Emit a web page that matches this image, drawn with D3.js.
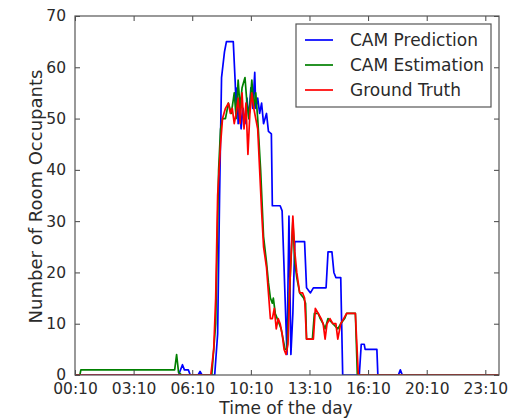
<!DOCTYPE html>
<html>
<head>
<meta charset="utf-8">
<script src="https://cdn.jsdelivr.net/npm/d3@7"></script>
<style>
  html, body { margin: 0; padding: 0; background: #fff; }
  svg { display: block; font-family: "DejaVu Sans", sans-serif; }
</style>
</head>
<body>
<svg id="chart" width="531" height="418"></svg>
<script>
// Occupancy samples: [sample index, occupants]
const camPrediction = [
  [0,0],[103,0],[106,0],[110,2],[112,1],[116,1],[118,0],[126,0],[128,0.7],[130,0],
  [143,0],[146,8],[148,35],[150,58],[153,63],[155,65],[162,65],[164,57],[165,52],
  [166,56],[167,49],[169,53],[170,48],[172,52],[174,49],[176,54],[178,50],[180,56],
  [182,52],[184,59],[185,52],[187,54],[189,51],[191,53],[193,49],[196,51],[198,47.5],
  [201,47],[202,33],[210,33],[212,32],[217,4],[219,31],[221,4],[223,12],[225,26],
  [235,26],[237,17],[241,16],[244,17],[257,17],[259,24],[263,24],[265,20],[267,19],
  [272,19],[274,0],[291,0],[293,6],[296,6],[297,5],[309,5],[310,0],[331,0],[333,1],
  [335,0],[434,0]
];
const camEstimation = [
  [0,0],[5,0],[6,1],[102,1],[104,4],[106,0.5],[109,0],[140,0],[144,10],[147,40],
  [149,48],[151,50],[154,50],[157,53],[160,51],[163,55],[165,50],[167,57.5],[169,52],
  [171,56],[174,58],[176,53],[178,50],[181,57.5],[183,52],[185,55],[187,50],[190,40],
  [193,27],[196,22],[198,18],[200,15],[202,14],[203,15],[205,12],[207,11],[209,10],
  [211,9],[213,7],[215,5],[217,5],[219,14],[221,22],[223,30],[225,22],[227,19],
  [230,16],[234,15],[236,14],[237,7],[243,7],[245,12],[249,12],[251,11],[254,10],
  [256,9],[259,11],[264,10],[269,9],[272,10],[276,11],[278,12],[287,12],[289,0],[434,0]
];
const groundTruth = [
  [0,0],[139,0],[142,5],[144,15],[146,35],[149,45],[151,50],[154,52],[157,53],[159,51],
  [161,52],[163,49],[165,51],[167,54],[169,49],[171,55],[173,48],[175,53],[177,43],
  [179,51],[181,55],[183,52],[185,50],[187,48],[189,40],[191,32],[193,25],[196,21],
  [198,16],[200,11],[202,11],[204,13],[206,9],[208,11],[210,10],[212,8],[214,5],
  [216,4],[218,6],[220,18],[223,31],[225,24],[227,20],[230,16],[233,16],[235,15],
  [237,7],[244,7],[246,13],[249,12],[252,11],[254,10],[256,7],[258,10],[261,11],
  [264,10],[267,10],[269,7],[272,10],[275,11],[278,12],[287,12],[290,0],[434,0]
];

const seriesNames = ["CAM Prediction", "CAM Estimation", "Ground Truth"];
const seriesColors = ["#0000ff", "#008000", "#ff0000"];
const seriesData = [camPrediction, camEstimation, groundTruth];

const xTickValues = [0, 60, 120, 180, 240, 300, 360, 420];
const xTickLabels = ["00:10", "03:10", "06:10", "10:10", "13:10", "16:10", "20:10", "23:10"];
const yTickValues = [0, 10, 20, 30, 40, 50, 60, 70];

const margin = { left: 75, top: 16, right: 32, bottom: 43 };
const W = 531, H = 418;
const iw = W - margin.left - margin.right;
const ih = H - margin.top - margin.bottom;

const svg = d3.select("#chart");
const g = svg.append("g").attr("transform", `translate(${margin.left},${margin.top})`);

const x = d3.scaleLinear().domain([0, 434]).range([0, iw]);
const y = d3.scaleLinear().domain([0, 70]).range([ih, 0]);

svg.append("defs").append("clipPath").attr("id", "plotclip")
  .append("rect").attr("x", 0).attr("y", -2).attr("width", iw).attr("height", ih + 2);

// Lines
const line = d3.line().x(d => x(d[0])).y(d => y(d[1]));
const lines = g.append("g").attr("clip-path", "url(#plotclip)");
seriesData.forEach((s, i) => {
  lines.append("path")
    .datum(s)
    .attr("fill", "none")
    .attr("stroke", seriesColors[i])
    .attr("stroke-width", 1.7)
    .attr("stroke-linejoin", "round")
    .attr("d", line);
});

// Axes with inward ticks on all four sides
const tickColor = "#444";
const labelColor = "#2a2a2a";
const tickFont = "15.5px";
const titleFont = "17px";
const xBottom = d3.axisBottom(x).tickValues(xTickValues).tickFormat((d, i) => xTickLabels[i])
  .tickSizeInner(-5).tickSizeOuter(0).tickPadding(8);
const xTop = d3.axisTop(x).tickValues(xTickValues).tickFormat("").tickSizeInner(-5).tickSizeOuter(0);
const yLeft = d3.axisLeft(y).tickValues(yTickValues).tickSizeInner(-5).tickSizeOuter(0).tickPadding(9);
const yRight = d3.axisRight(y).tickValues(yTickValues).tickFormat("").tickSizeInner(-5).tickSizeOuter(0);

function styleAxis(sel) {
  sel.select(".domain").remove();
  sel.selectAll(".tick line").attr("stroke", tickColor);
  sel.selectAll(".tick text").attr("fill", labelColor).style("font-size", tickFont)
    .style("font-family", "'DejaVu Sans', sans-serif");
}
g.append("g").attr("transform", `translate(0,${ih})`).call(xBottom).call(styleAxis);
g.append("g").call(xTop).call(styleAxis);
g.append("g").call(yLeft).call(styleAxis);
g.append("g").attr("transform", `translate(${iw},0)`).call(yRight).call(styleAxis);

// Frame
g.append("rect").attr("x", 0).attr("y", 0).attr("width", iw).attr("height", ih)
  .attr("fill", "none").attr("stroke", "#555").attr("stroke-width", 1.2);

// Axis titles
svg.append("text")
  .attr("x", margin.left + iw / 2 - 1).attr("y", 414)
  .attr("text-anchor", "middle").attr("fill", labelColor).style("font-size", titleFont)
  .text("Time of the day");
svg.append("text")
  .attr("transform", `translate(42,${margin.top + ih / 2 + 1}) rotate(-90)`)
  .attr("text-anchor", "middle").attr("fill", labelColor).style("font-size", "18px")
  .text("Number of Room Occupants");

// Legend
const lg = g.append("g").attr("transform", `translate(${iw - 203},8)`);
lg.append("rect").attr("x", 0).attr("y", 0).attr("width", 195).attr("height", 83)
  .attr("fill", "#fff").attr("stroke", "#555").attr("stroke-width", 1.2);
seriesNames.forEach((name, i) => {
  const ry = 16 + i * 25;
  lg.append("line").attr("x1", 9).attr("x2", 37).attr("y1", ry).attr("y2", ry)
    .attr("stroke", seriesColors[i]).attr("stroke-width", 1.7);
  lg.append("text").attr("x", 54).attr("y", ry + 6).attr("fill", labelColor)
    .style("font-size", titleFont).text(name);
});
</script>
</body>
</html>
